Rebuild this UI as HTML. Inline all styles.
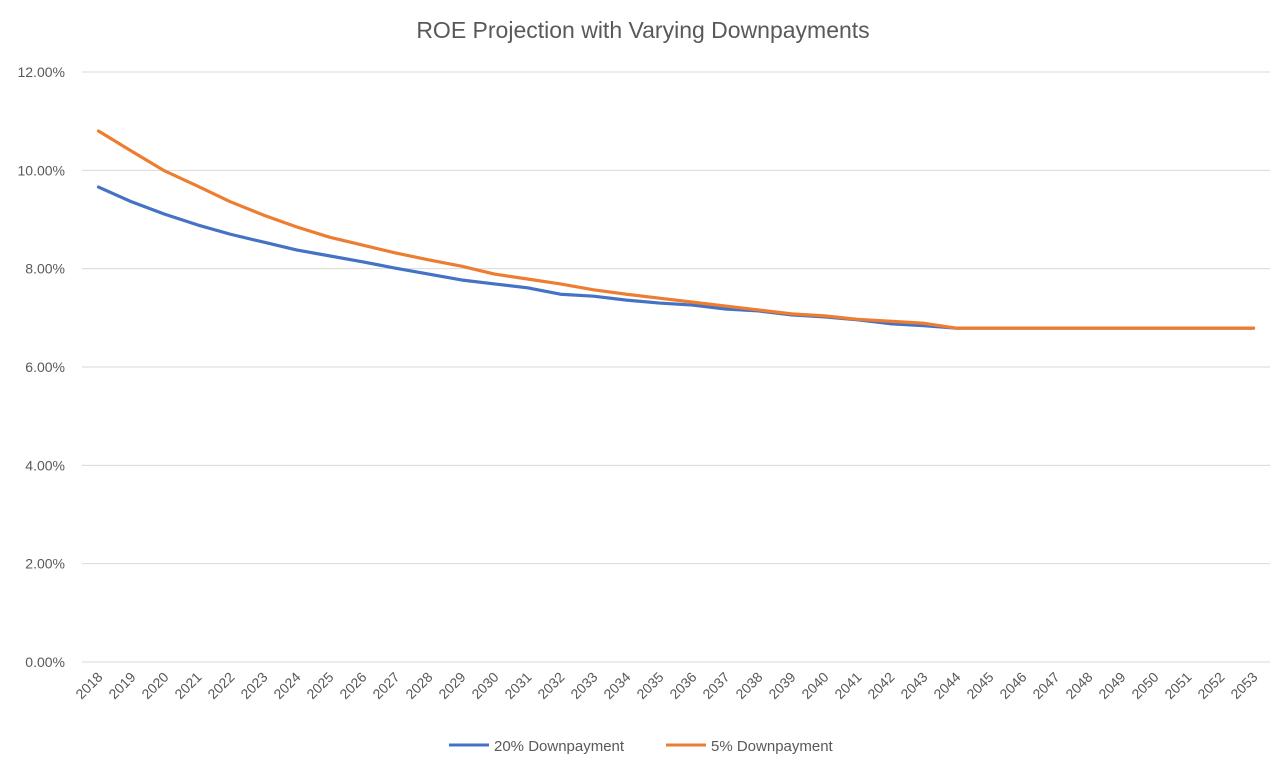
<!DOCTYPE html>
<html><head><meta charset="utf-8">
<style>
body{margin:0;background:#fff;font-family:"Liberation Sans",sans-serif;}
svg text{font-family:"Liberation Sans",sans-serif;}
</style></head>
<body>
<svg id="chart" width="1286" height="772" xmlns="http://www.w3.org/2000/svg">
<rect width="1286" height="772" fill="#fff"/>
<text x="643" y="38" text-anchor="middle" font-size="23" fill="#595959">ROE Projection with Varying Downpayments</text>
<g id="grid"></g><g id="yt"></g><g id="xt"></g><g id="lines"></g>
<g>
<g><line x1="449" y1="745" x2="489" y2="745" stroke="#4472C4" stroke-width="3"/><text x="494" y="751" font-size="15" fill="#595959">20% Downpayment</text></g>
<g><line x1="666" y1="745" x2="706" y2="745" stroke="#ED7D31" stroke-width="3"/><text x="711" y="751" font-size="15" fill="#595959">5% Downpayment</text></g>
</g>
</svg>
<script>
const years=[];for(let y=2018;y<=2053;y++)years.push(String(y));
const dp20=[9.66,9.36,9.11,8.89,8.70,8.54,8.38,8.26,8.14,8.01,7.89,7.77,7.69,7.61,7.48,7.44,7.36,7.30,7.26,7.18,7.14,7.06,7.02,6.96,6.88,6.84,6.79,6.79,6.79,6.79,6.79,6.79,6.79,6.79,6.79,6.79];
const dp5=[10.80,10.39,9.99,9.68,9.36,9.09,8.85,8.64,8.48,8.32,8.18,8.05,7.89,7.79,7.69,7.57,7.48,7.40,7.32,7.24,7.16,7.08,7.04,6.97,6.93,6.89,6.79,6.79,6.79,6.79,6.79,6.79,6.79,6.79,6.79,6.79];
const yTicks=[0,2,4,6,8,10,12];
const NS="http://www.w3.org/2000/svg";
const x0=82,x1=1270,yTop=72,yBot=662;
const step=(x1-x0)/years.length;
const xs=i=>x0+step*(i+0.5);
const ys=v=>yBot-(v/12)*(yBot-yTop);
function mk(t,a,p){const e=document.createElementNS(NS,t);for(const k in a)e.setAttribute(k,a[k]);p.appendChild(e);return e;}
const g=document.getElementById('grid'),yt=document.getElementById('yt'),xt=document.getElementById('xt'),ln=document.getElementById('lines');
yTicks.forEach(v=>{
 const l=mk('line',{x1:x0,x2:x1,y1:ys(v),y2:ys(v),stroke:'#d9d9d9','stroke-width':1},g);
 
 
 const t=mk('text',{x:65,y:ys(v)+5,'text-anchor':'end','font-size':14,fill:'#595959'},yt);
 t.textContent=v.toFixed(2)+'%';
 
 
});
years.forEach((yr,i)=>{
 const x=xs(i)+5,y=678;
 const t=mk('text',{x:x,y:y,'text-anchor':'end','font-size':14,fill:'#595959',transform:`rotate(-45 ${x} ${y})`},xt);
 t.textContent=yr;
 
 
});
[[dp20,'#4472C4','line-20-downpayment'],[dp5,'#ED7D31','line-5-downpayment']].forEach(([d,c,n])=>{
 const p=mk('polyline',{points:d.map((v,i)=>xs(i)+','+ys(v)).join(' '),fill:'none',stroke:c,'stroke-width':3.2,'stroke-linejoin':'round','stroke-linecap':'round'},ln);
 
 
});
</script>
</body></html>
